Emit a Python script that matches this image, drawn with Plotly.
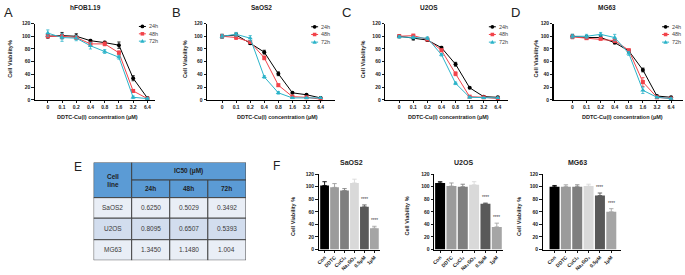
import plotly.graph_objects as go

W, H = 685, 275
FONT = "Liberation Sans"

# ---------------- data ----------------
conc_labels = ["0", "0.1", "0.2", "0.4", "0.8", "1.6", "3.2", "6.4"]
time_labels = ["24h", "48h", "72h"]

hfob_24h = [100, 101, 100, 93, 90, 86, 34, 3]
hfob_48h = [100, 100, 98, 88, 88, 74, 14, 2]
hfob_72h = [105, 98, 97, 85, 76, 67, 4, 2]
hfob_24h_sd = [3, 5, 4, 2, 2, 5, 4, 1]
hfob_48h_sd = [2, 3, 3, 3, 3, 3, 2, 1]
hfob_72h_sd = [5, 6, 4, 5, 3, 3, 2, 1]

saos2_24h = [100, 102, 89, 75, 41, 11, 8, 3]
saos2_48h = [100, 98, 91, 66, 23, 5, 4, 1]
saos2_72h = [100, 103, 97, 36, 11, 3, 3, 3]
saos2_24h_sd = [3, 3, 2, 3, 3, 1, 1, 1]
saos2_48h_sd = [3, 3, 2, 3, 2, 1, 1, 1]
saos2_72h_sd = [3, 3, 4, 2, 2, 1, 1, 1]

u2os_24h = [100, 97, 94, 82, 56, 19, 5, 4]
u2os_48h = [100, 101, 95, 78, 41, 5, 4, 2]
u2os_72h = [99, 98, 97, 71, 26, 4, 3, 3]
u2os_24h_sd = [2, 3, 2, 2, 3, 1, 1, 1]
u2os_48h_sd = [2, 2, 2, 2, 3, 1, 1, 1]
u2os_72h_sd = [2, 2, 2, 2, 2, 1, 1, 1]

mg63_24h = [100, 98, 98, 90, 77, 47, 6, 4]
mg63_48h = [99, 97, 96, 93, 78, 28, 4, 2]
mg63_72h = [100, 100, 103, 98, 73, 15, 4, 2]
mg63_24h_sd = [3, 3, 3, 2, 2, 3, 1, 1]
mg63_48h_sd = [3, 2, 2, 3, 2, 7, 1, 1]
mg63_72h_sd = [3, 3, 3, 5, 3, 5, 1, 1]

ic50_cell_lines = ["SaOS2", "U2OS", "MG63"]
ic50_24h = ["0.6250", "0.8095", "1.3450"]
ic50_48h = ["0.5029", "0.6507", "1.1480"]
ic50_72h = ["0.3492", "0.5393", "1.004"]

bar_labels = ["Con", "DDTC", "CuCl₂", "Na₂SO₃", "0.5μM", "1μM"]
saos2_bar = [102, 99, 94, 106, 68, 34]
saos2_bar_sd = [6, 6, 3, 6, 3, 3]
u2os_bar = [106, 101, 100, 103, 73, 36]
u2os_bar_sd = [2, 5, 4, 5, 1, 6]
mg63_bar = [100, 100, 100, 101, 86, 60]
mg63_bar_sd = [2, 3, 3, 3, 4, 5]
bar_sig = ["", "", "", "", "****", "****"]

# ---------------- styling ----------------
time_colors = ["#000000", "#F2434A", "#2BB3C9"]
time_symbols = ["circle", "square", "triangle-up"]
bar_colors = ["#000000", "#9B9B9B", "#7F7F7F", "#D9D9D9", "#595959", "#A5A5A5"]


def px(x):
    return x / W


def py(y):
    return 1 - y / H


fig = go.Figure()
annotations = []
shapes = []

tickfont = dict(family=FONT, size=5, color="#222222", weight="bold")

# ---------------- line panels A-D ----------------
line_panels = [
    dict(letter="A", title="hFOB1.19", series=[hfob_24h, hfob_48h, hfob_72h],
         sds=[hfob_24h_sd, hfob_48h_sd, hfob_72h_sd],
         x0=32, x1=153, xr=[-0.91, 7.56], letter_x=6, ytitle_x=7, xtitle_x=95,
         legend_x=140, legend_y=[24, 31.5, 39], title_x=83),
    dict(letter="B", title="SaOS2", series=[saos2_24h, saos2_48h, saos2_72h],
         sds=[saos2_24h_sd, saos2_48h_sd, saos2_72h_sd],
         x0=205, x1=333, xr=[-1.06, 7.99], letter_x=174, ytitle_x=183, xtitle_x=276,
         legend_x=313, legend_y=[24.3, 32.2, 40], title_x=260),
    dict(letter="C", title="U2OS", series=[u2os_24h, u2os_48h, u2os_72h],
         sds=[u2os_24h_sd, u2os_48h_sd, u2os_72h_sd],
         x0=384, x1=507, xr=[-0.99, 7.71], letter_x=345, ytitle_x=361, xtitle_x=447,
         legend_x=491.5, legend_y=[24.3, 32.2, 40], title_x=428),
    dict(letter="D", title="MG63", series=[mg63_24h, mg63_48h, mg63_72h],
         sds=[mg63_24h_sd, mg63_48h_sd, mg63_72h_sd],
         x0=553, x1=683, xr=[-1.34, 7.85], letter_x=515, ytitle_x=535, xtitle_x=622,
         legend_x=665.5, legend_y=[24.3, 32.2, 40], title_x=607),
]

Y_TOP, Y_BOT = 21, 99
for i, p in enumerate(line_panels):
    n = i + 1
    xa = "x" if n == 1 else f"x{n}"
    ya = "y" if n == 1 else f"y{n}"
    for s, (vals, sd) in enumerate(zip(p["series"], p["sds"])):
        fig.add_trace(go.Scatter(
            x=conc_labels, y=vals, name=time_labels[s], mode="lines+markers",
            xaxis=xa, yaxis=ya, cliponaxis=False, showlegend=False,
            line=dict(color=time_colors[s], width=1),
            marker=dict(symbol=time_symbols[s], color=time_colors[s],
                        size=4.5 if s == 2 else 4),
            error_y=dict(type="data", array=sd, color=time_colors[s],
                         thickness=0.8, width=1.6),
        ))
    xkey = "xaxis" if n == 1 else f"xaxis{n}"
    ykey = "yaxis" if n == 1 else f"yaxis{n}"
    fig.layout[xkey] = dict(
        domain=[px(p["x0"]), px(p["x1"])], range=p["xr"], type="category",
        anchor=ya, showline=True, linecolor="black", linewidth=1.1,
        ticks="outside", ticklen=2.5, tickwidth=0.9, tickcolor="black",
        tickfont=tickfont, showgrid=False, zeroline=False)
    fig.layout[ykey] = dict(
        domain=[py(Y_BOT), py(Y_TOP)], range=[0, 120], anchor=xa,
        tickvals=[0, 20, 40, 60, 80, 100, 120],
        showline=True, linecolor="black", linewidth=1.1,
        ticks="outside", ticklen=2.5, tickwidth=0.9, tickcolor="black",
        tickfont=tickfont, showgrid=False, zeroline=False)
    annotations.append(dict(text=p["letter"], x=px(p["letter_x"]), y=py(10),
                            xref="paper", yref="paper", showarrow=False,
                            xanchor="center", yanchor="middle",
                            font=dict(family=FONT, size=13, color="#222222")))
    annotations.append(dict(text=p["title"], x=px(p["title_x"]), y=py(4.5),
                            xref="paper", yref="paper", showarrow=False,
                            xanchor="center", yanchor="middle",
                            font=dict(family=FONT, size=6.5, color="#222222", weight="bold")))
    annotations.append(dict(text="Cell Viability%", x=px(p["ytitle_x"]), y=py(57),
                            xref="paper", yref="paper", showarrow=False, textangle=-90,
                            xanchor="center", yanchor="middle",
                            font=dict(family=FONT, size=5.5, color="#222222", weight="bold")))
    annotations.append(dict(text="DDTC-Cu(I) concentration (μM)", x=px(p["xtitle_x"]), y=py(117),
                            xref="paper", yref="paper", showarrow=False,
                            xanchor="center", yanchor="middle",
                            font=dict(family=FONT, size=5.5, color="#222222", weight="bold")))
    # legend keys
    mx = p["legend_x"]
    for s in range(3):
        ly = p["legend_y"][s]
        c = time_colors[s]
        shapes.append(dict(type="line", xref="paper", yref="paper",
                           x0=px(mx - 3.5), x1=px(mx + 3.5), y0=py(ly), y1=py(ly),
                           line=dict(color=c, width=1)))
        if s == 0:
            shapes.append(dict(type="circle", xref="paper", yref="paper",
                               x0=px(mx - 1.9), x1=px(mx + 1.9), y0=py(ly + 1.9), y1=py(ly - 1.9),
                               fillcolor=c, line=dict(width=0)))
        elif s == 1:
            shapes.append(dict(type="rect", xref="paper", yref="paper",
                               x0=px(mx - 1.8), x1=px(mx + 1.8), y0=py(ly + 1.8), y1=py(ly - 1.8),
                               fillcolor=c, line=dict(width=0)))
        else:
            path = (f"M {px(mx - 2.2)},{py(ly + 1.7)} L {px(mx + 2.2)},{py(ly + 1.7)} "
                    f"L {px(mx)},{py(ly - 2.1)} Z")
            shapes.append(dict(type="path", xref="paper", yref="paper", path=path,
                               fillcolor=c, line=dict(width=0)))
        annotations.append(dict(text=time_labels[s], x=px(mx + 4.5), y=py(ly),
                                xref="paper", yref="paper", showarrow=False,
                                xanchor="left", yanchor="middle",
                                font=dict(family=FONT, size=5.5, color="#444444")))

# ---------------- bar panels F ----------------
bar_panels = [
    dict(title="SaOS2", vals=saos2_bar, sds=saos2_bar_sd, x0=317, x1=379,
         xr=[-0.6, 5.6], title_x=350, ytitle_x=292),
    dict(title="U2OS", vals=u2os_bar, sds=u2os_bar_sd, x0=433, x1=502,
         xr=[-0.53, 5.53], title_x=463, ytitle_x=406),
    dict(title="MG63", vals=mg63_bar, sds=mg63_bar_sd, x0=542, x1=621,
         xr=[-1.05, 5.88], title_x=577, ytitle_x=519),
]
FB_TOP, FB_BOT = 175, 252
for j, p in enumerate(bar_panels):
    n = 5 + j
    xa, ya = f"x{n}", f"y{n}"
    for k, lab in enumerate(bar_labels):
        fig.add_trace(go.Bar(
            x=[lab], y=[p["vals"][k]], xaxis=xa, yaxis=ya, showlegend=False,
            marker=dict(color=bar_colors[k], line=dict(width=0)), width=0.88,
            error_y=dict(type="data", array=[p["sds"][k]], color=bar_colors[k],
                         thickness=0.9, width=2.2, symmetric=False,
                         arrayminus=[0]),
        ))
        if bar_sig[k]:
            annotations.append(dict(text=bar_sig[k], x=lab, y=p["vals"][k] + p["sds"][k],
                                    xref=xa, yref=ya, showarrow=False,
                                    xanchor="center", yanchor="bottom", yshift=1,
                                    font=dict(family=FONT, size=4.5, color="#333333")))
    fig.layout[f"xaxis{n}"] = dict(
        domain=[px(p["x0"]), px(p["x1"])], range=p["xr"], type="category",
        categoryorder="array", categoryarray=bar_labels,
        anchor=ya, showline=True, linecolor="black", linewidth=1.1,
        ticks="outside", ticklen=2, tickwidth=0.9, tickcolor="black",
        tickangle=-45, tickfont=dict(family=FONT, size=5, color="#222222", weight="bold"),
        showgrid=False, zeroline=False)
    fig.layout[f"yaxis{n}"] = dict(
        domain=[py(FB_BOT), py(FB_TOP)], range=[0, 120], anchor=xa,
        tickvals=[0, 20, 40, 60, 80, 100, 120],
        showline=True, linecolor="black", linewidth=1.1,
        ticks="outside", ticklen=2.5, tickwidth=0.9, tickcolor="black",
        tickfont=tickfont, showgrid=False, zeroline=False)
    annotations.append(dict(text=p["title"], x=px(p["title_x"]), y=py(163),
                            xref="paper", yref="paper", showarrow=False,
                            xanchor="center", yanchor="middle",
                            font=dict(family=FONT, size=7, color="#222222", weight="bold")))
    annotations.append(dict(text="Cell Viability %", x=px(p["ytitle_x"]), y=py(218),
                            xref="paper", yref="paper", showarrow=False, textangle=-90,
                            xanchor="center", yanchor="middle",
                            font=dict(family=FONT, size=5.5, color="#222222", weight="bold")))

annotations.append(dict(text="F", x=px(275), y=py(167), xref="paper", yref="paper",
                        showarrow=False, xanchor="center", yanchor="middle",
                        font=dict(family=FONT, size=12, color="#222222")))

# ---------------- table E ----------------
fig.layout["xaxis8"] = dict(domain=[px(91), px(244)], range=[0, 4], visible=False,
                            anchor="y8", fixedrange=True)
fig.layout["yaxis8"] = dict(domain=[py(263), py(163)], range=[100, 0], visible=False,
                            anchor="x8", fixedrange=True)
row_edges = [0, 18, 36, 57, 79, 100]
header_fill = "#5B9BD5"
row_fills = ["#E9EEF6", "#D2DDEE", "#E9EEF6"]
border = dict(color="#3C3C3C", width=0.9)


def cell(x0, x1, y0, y1, fill, text, bold=False, color="#3A3A3A"):
    shapes.append(dict(type="rect", xref="x8", yref="y8", x0=x0, x1=x1, y0=y0, y1=y1,
                       fillcolor=fill, line=border, layer="above"))
    annotations.append(dict(text=text, x=(x0 + x1) / 2, y=(y0 + y1) / 2, xref="x8", yref="y8",
                            showarrow=False, xanchor="center", yanchor="middle",
                            font=dict(family=FONT, size=6.5, color=color,
                                      weight="bold" if bold else "normal")))


cell(0, 1, row_edges[0], row_edges[2], header_fill, "Cell<br>line", True, "#1E1E1E")
cell(1, 4, row_edges[0], row_edges[1], header_fill, "IC50 (μM)", True, "#1E1E1E")
for c, t in enumerate(time_labels):
    cell(1 + c, 2 + c, row_edges[1], row_edges[2], header_fill, t, True, "#1E1E1E")
for r, name in enumerate(ic50_cell_lines):
    y0, y1 = row_edges[2 + r], row_edges[3 + r]
    cell(0, 1, y0, y1, row_fills[r], name)
    for c, col in enumerate([ic50_24h, ic50_48h, ic50_72h]):
        cell(1 + c, 2 + c, y0, y1, row_fills[r], col[r])

annotations.append(dict(text="E", x=px(75), y=py(168), xref="paper", yref="paper",
                        showarrow=False, xanchor="center", yanchor="middle",
                        font=dict(family=FONT, size=12, color="#222222")))

fig.update_layout(
    width=W, height=H, margin=dict(l=0, r=0, t=0, b=0),
    paper_bgcolor="white", plot_bgcolor="white",
    showlegend=False, barmode="overlay", hovermode=False,
    font=dict(family=FONT),
    annotations=annotations, shapes=shapes,
)

fig.write_html("out.html", config={"displayModeBar": False, "staticPlot": True},
               post_script="document.body.style.margin='0';document.body.style.overflow='hidden';")
